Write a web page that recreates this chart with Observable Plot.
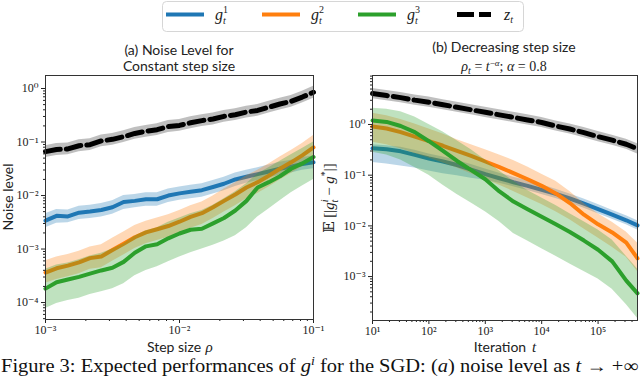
<!DOCTYPE html>
<html><head><meta charset="utf-8">
<script src="https://cdn.jsdelivr.net/npm/d3@7"></script>
<script src="https://cdn.jsdelivr.net/npm/@observablehq/plot@0.6"></script>
<style>
html,body{margin:0;padding:0;background:#fff;}
#chart{position:relative;width:640px;height:376px;overflow:hidden;background:#fff;}
#chart > svg{position:absolute;top:0;}
</style></head><body><div id="chart"></div>
<script>
// ---------- Panel (a): constant step size (values are log10 exponents)
const stepSize = [1.00e-3,1.21e-3,1.47e-3,1.78e-3,2.15e-3,2.61e-3,3.16e-3,3.83e-3,4.64e-3,5.62e-3,6.81e-3,8.25e-3,1.00e-2,1.21e-2,1.47e-2,1.78e-2,2.15e-2,2.61e-2,3.16e-2,3.83e-2,4.64e-2,5.62e-2,6.81e-2,8.25e-2,1.00e-1];
const aZ     = [-1.18,-1.14,-1.13,-1.07,-1.05,-0.98,-0.95,-0.90,-0.84,-0.80,-0.77,-0.71,-0.69,-0.64,-0.60,-0.57,-0.52,-0.49,-0.44,-0.41,-0.35,-0.29,-0.24,-0.16,-0.07];
const aZLo   = [-1.29,-1.25,-1.24,-1.18,-1.16,-1.09,-1.06,-1.01,-0.95,-0.91,-0.88,-0.82,-0.80,-0.75,-0.71,-0.68,-0.63,-0.60,-0.55,-0.52,-0.46,-0.40,-0.35,-0.27,-0.18];
const aZHi   = [-1.07,-1.03,-1.02,-0.96,-0.94,-0.87,-0.84,-0.79,-0.73,-0.69,-0.66,-0.60,-0.58,-0.53,-0.49,-0.46,-0.41,-0.38,-0.33,-0.30,-0.24,-0.18,-0.13,-0.05,0.04];
const aG1    = [-2.47,-2.38,-2.39,-2.32,-2.30,-2.27,-2.22,-2.12,-2.10,-2.07,-2.07,-2.00,-1.96,-1.93,-1.90,-1.84,-1.78,-1.70,-1.65,-1.60,-1.55,-1.50,-1.46,-1.41,-1.38];
const aG1Lo  = [-2.60,-2.52,-2.51,-2.45,-2.43,-2.40,-2.35,-2.26,-2.23,-2.20,-2.20,-2.13,-2.09,-2.06,-2.03,-1.97,-1.91,-1.83,-1.77,-1.72,-1.67,-1.62,-1.58,-1.53,-1.50];
const aG1Hi  = [-2.34,-2.26,-2.27,-2.20,-2.18,-2.15,-2.10,-2.00,-1.98,-1.95,-1.95,-1.88,-1.84,-1.81,-1.78,-1.72,-1.66,-1.58,-1.53,-1.48,-1.43,-1.38,-1.34,-1.29,-1.26];
const aG2    = [-3.44,-3.36,-3.31,-3.25,-3.17,-3.14,-3.02,-2.90,-2.78,-2.69,-2.63,-2.57,-2.49,-2.40,-2.33,-2.22,-2.10,-1.98,-1.85,-1.75,-1.63,-1.50,-1.38,-1.25,-1.10];
const aG2Lo  = [-3.64,-3.57,-3.52,-3.46,-3.38,-3.35,-3.23,-3.11,-2.99,-2.90,-2.84,-2.78,-2.70,-2.61,-2.54,-2.43,-2.31,-2.19,-2.06,-1.96,-1.84,-1.71,-1.59,-1.46,-1.31];
const aG2Hi  = [-3.22,-3.15,-3.10,-3.04,-2.96,-2.92,-2.80,-2.68,-2.56,-2.48,-2.42,-2.36,-2.28,-2.19,-2.12,-2.01,-1.88,-1.76,-1.63,-1.53,-1.41,-1.28,-1.16,-1.03,-0.88];
const aG3    = [-3.74,-3.62,-3.57,-3.52,-3.46,-3.40,-3.35,-3.24,-3.07,-2.95,-2.91,-2.80,-2.71,-2.64,-2.62,-2.52,-2.42,-2.28,-2.10,-1.85,-1.75,-1.64,-1.50,-1.40,-1.28];
const aG3Lo  = [-4.11,-4.02,-3.96,-3.92,-3.85,-3.80,-3.74,-3.65,-3.50,-3.40,-3.33,-3.24,-3.15,-3.07,-3.00,-2.93,-2.85,-2.75,-2.60,-2.40,-2.25,-2.10,-1.95,-1.82,-1.70];
const aG3Hi  = [-3.38,-3.30,-3.26,-3.20,-3.13,-3.08,-3.00,-2.90,-2.76,-2.66,-2.60,-2.50,-2.42,-2.34,-2.28,-2.18,-2.06,-1.93,-1.78,-1.60,-1.48,-1.36,-1.24,-1.12,-1.00];

// ---------- Panel (b): decreasing step size
const iteration = [10,17.8,31.6,56.2,100,178,316,562,1000,1780,3160,5620,10000,17800,31600,56200,100000,178000,316000,500000];
const bZ    = [0.61,0.57,0.53,0.48,0.44,0.39,0.34,0.29,0.24,0.19,0.14,0.09,0.04,-0.03,-0.09,-0.16,-0.24,-0.31,-0.39,-0.48];
const bZLo  = [0.51,0.47,0.43,0.38,0.34,0.29,0.24,0.19,0.14,0.09,0.04,-0.01,-0.06,-0.13,-0.19,-0.26,-0.34,-0.41,-0.49,-0.58];
const bZHi  = [0.71,0.67,0.63,0.58,0.54,0.49,0.44,0.39,0.34,0.29,0.24,0.19,0.14,0.07,0.01,-0.06,-0.14,-0.21,-0.29,-0.38];
const bG1   = [-0.47,-0.49,-0.53,-0.60,-0.67,-0.73,-0.80,-0.89,-0.98,-1.06,-1.14,-1.21,-1.29,-1.37,-1.46,-1.56,-1.67,-1.78,-1.89,-1.99];
const bG1Lo = [-0.75,-0.78,-0.82,-0.86,-0.92,-0.97,-1.01,-1.06,-1.10,-1.16,-1.23,-1.30,-1.38,-1.46,-1.55,-1.65,-1.76,-1.87,-1.98,-2.08];
const bG1Hi = [-0.40,-0.42,-0.45,-0.51,-0.58,-0.64,-0.71,-0.79,-0.88,-0.96,-1.04,-1.11,-1.19,-1.28,-1.37,-1.47,-1.58,-1.69,-1.80,-1.90];
const bG2   = [-0.04,-0.08,-0.15,-0.24,-0.33,-0.42,-0.52,-0.62,-0.73,-0.84,-0.96,-1.08,-1.21,-1.36,-1.55,-1.78,-1.97,-2.13,-2.33,-2.64];
const bG2Lo = [-0.35,-0.40,-0.48,-0.57,-0.66,-0.76,-0.86,-0.97,-1.08,-1.20,-1.32,-1.45,-1.58,-1.72,-1.88,-2.06,-2.24,-2.42,-2.62,-2.90];
const bG2Hi = [0.22,0.17,0.10,0.01,-0.09,-0.19,-0.30,-0.40,-0.50,-0.60,-0.71,-0.84,-0.98,-1.12,-1.32,-1.56,-1.76,-1.93,-2.12,-2.34];
const bG3   = [0.08,0.05,-0.03,-0.15,-0.33,-0.52,-0.72,-0.90,-1.08,-1.32,-1.52,-1.67,-1.82,-1.97,-2.12,-2.29,-2.47,-2.70,-3.08,-3.33];
const bG3Lo = [-0.55,-0.60,-0.70,-0.85,-1.00,-1.20,-1.38,-1.55,-1.72,-1.92,-2.15,-2.30,-2.45,-2.60,-2.75,-2.90,-3.05,-3.25,-3.55,-3.82];
const bG3Hi = [0.32,0.30,0.25,0.15,0.00,-0.15,-0.32,-0.50,-0.70,-0.92,-1.12,-1.30,-1.45,-1.60,-1.76,-1.92,-2.08,-2.28,-2.60,-2.85];

// ---------- ticks, names, colours
const aXTicks = [1e-3, 1e-2, 1e-1];
const aYTicks = [1e0, 1e-1, 1e-2, 1e-3, 1e-4];
const bXTicks = [1e1, 1e2, 1e3, 1e4, 1e5];
const bYTicks = [1e0, 1e-1, 1e-2, 1e-3];
const seriesNames = ["g1", "g2", "g3", "z"];
const seriesColors = ["#1f77b4", "#ff7f0e", "#2ca02c", "#000000"];

const sup = {"0":"⁰","1":"¹","2":"²","3":"³","4":"⁴","5":"⁵","6":"⁶","7":"⁷","8":"⁸","9":"⁹","-":"⁻"};
const powFmt = v => "10" + String(Math.round(Math.log10(v))).split("").map(c => sup[c]).join("");
function minor(lo, hi) {
  const out = [];
  for (let e = Math.floor(Math.log10(lo)); e <= Math.ceil(Math.log10(hi)); e++)
    for (let k = 2; k <= 9; k++) { const v = k * 10 ** e; if (v > lo * 1.0001 && v < hi * 0.9999) out.push(v); }
  return out;
}

function rows(xs, mid, lo, hi) {
  return xs.map((x, i) => ({x, y: 10 ** mid[i], lo: 10 ** lo[i], hi: 10 ** hi[i]}));
}

function panel(xs, sets, opts) {
  const marks = [];
  sets.forEach(([mid, lo, hi], k) => {
    const d = rows(xs, mid, lo, hi);
    const isZ = seriesNames[k] === "z";
    marks.push(Plot.areaY(d, {x: "x", y1: "lo", y2: "hi", fill: isZ ? "#808080" : seriesColors[k], fillOpacity: isZ ? 0.5 : 0.3, curve: "linear"}));
    marks.push(Plot.lineY(d, {x: "x", y: "y", stroke: seriesColors[k], strokeWidth: isZ ? 5 : 4,
      strokeDasharray: isZ ? "15,6" : null, curve: "linear", strokeLinejoin: "round"}));
  });
  marks.push(
    Plot.axisX({ticks: opts.xTicks, tickFormat: powFmt, tickSize: 4, tickPadding: 2, label: null, fontSize: 12}),
    Plot.axisX({ticks: minor(opts.xDomain[0], opts.xDomain[1]), tickFormat: () => "", tickSize: 2, label: null}),
    Plot.axisY({ticks: opts.yTicks, tickFormat: powFmt, tickSize: 4, tickPadding: 3, label: null, fontSize: 12}),
    Plot.axisY({ticks: minor(opts.yDomain[0], opts.yDomain[1]), tickFormat: () => "", tickSize: 2, label: null}),
    Plot.frame({stroke: "#333", strokeWidth: 1})
  );
  const svg = Plot.plot({
    width: opts.width, height: 376,
    marginLeft: opts.ml, marginRight: opts.mr, marginTop: 75, marginBottom: opts.mb,
    x: {type: "log", domain: opts.xDomain},
    y: {type: "log", domain: opts.yDomain},
    style: {fontFamily: "'Liberation Serif', 'DejaVu Serif', serif", fontSize: "12px", color: "#222", background: "transparent", overflow: "visible"},
    marks
  });
  svg.style.left = opts.left + "px";
  return svg;
}

const chart = document.getElementById("chart");
chart.appendChild(panel(stepSize,
  [[aG1, aG1Lo, aG1Hi], [aG2, aG2Lo, aG2Hi], [aG3, aG3Lo, aG3Hi], [aZ, aZLo, aZHi]],
  {width: 330, left: 0, ml: 45, mr: 17, mb: 57, xDomain: [1e-3, 1e-1], yDomain: [4.82e-5, 1.75], xTicks: aXTicks, yTicks: aYTicks}));
chart.appendChild(panel(iteration,
  [[bG1, bG1Lo, bG1Hi], [bG2, bG2Lo, bG2Hi], [bG3, bG3Lo, bG3Hi], [bZ, bZLo, bZHi]],
  {width: 320, left: 320, ml: 52, mr: 3, mb: 56, xDomain: [10, 5e5], yDomain: [1.36e-4, 9.25], xTicks: bXTicks, yTicks: bYTicks}));

// ---------- overlay: legend, titles, axis labels, caption
const NS = "http://www.w3.org/2000/svg";
const ov = document.createElementNS(NS, "svg");
ov.setAttribute("width", 640); ov.setAttribute("height", 376);
ov.style.left = "0px"; ov.style.pointerEvents = "none";
const SERIF = "'Liberation Serif', 'DejaVu Serif', serif";
const SANS = "Lato, 'Open Sans', sans-serif";
ov.innerHTML = `
<rect x="162.5" y="1.5" width="361" height="30" rx="4" fill="#fff" fill-opacity="0.8" stroke="#d6d6d6"/>
<line x1="166" x2="204" y1="14.5" y2="14.5" stroke="${seriesColors[0]}" stroke-width="4"/>
<line x1="262" x2="300" y1="14.5" y2="14.5" stroke="${seriesColors[1]}" stroke-width="4"/>
<line x1="358" x2="396" y1="14.5" y2="14.5" stroke="${seriesColors[2]}" stroke-width="4"/>
<line x1="457" x2="491" y1="14.5" y2="14.5" stroke="#000" stroke-width="5" stroke-dasharray="17,5"/>
<g font-family="${SERIF}" font-size="16" fill="#222">
  <text x="215" y="20" font-style="italic">g<tspan font-style="normal" font-size="10" dy="-7">1</tspan><tspan font-size="10" dx="-5" dy="11">t</tspan></text>
  <text x="311" y="20" font-style="italic">g<tspan font-style="normal" font-size="10" dy="-7">2</tspan><tspan font-size="10" dx="-5" dy="11">t</tspan></text>
  <text x="407" y="20" font-style="italic">g<tspan font-style="normal" font-size="10" dy="-7">3</tspan><tspan font-size="10" dx="-5" dy="11">t</tspan></text>
  <text x="504" y="20" font-style="italic">z<tspan font-size="10" dy="3">t</tspan></text>
</g>
<g font-family="${SANS}" font-size="14" fill="#222" text-anchor="middle">
  <text x="179" y="55">(a) Noise Level for</text>
  <text x="179" y="71">Constant step size</text>
  <text x="504" y="52">(b) Decreasing step size</text>
  <text x="174" y="352">Step size</text>
  <text x="500" y="352">Iteration</text>
  <text transform="translate(13,197) rotate(-90)">Noise level</text>
</g>
<text x="209" y="352" text-anchor="middle" font-family="${SERIF}" font-style="italic" font-size="15" fill="#222">ρ</text>
<text x="534" y="352" text-anchor="middle" font-family="${SERIF}" font-style="italic" font-size="15" fill="#222">t</text>
<text x="504" y="71" text-anchor="middle" font-family="${SERIF}" font-size="14" fill="#222"><tspan font-style="italic">ρ</tspan><tspan font-style="italic" font-size="10" dy="3">t</tspan><tspan dy="-3"> = </tspan><tspan font-style="italic">t</tspan><tspan font-size="9" dy="-5">−</tspan><tspan font-size="9" font-style="italic">α</tspan><tspan dy="5">; </tspan><tspan font-style="italic">α</tspan> = 0.8</text>
<text transform="translate(334,198) rotate(-90)" text-anchor="middle" font-family="${SERIF}" font-size="15" fill="#222">𝔼 [|<tspan font-style="italic">g</tspan><tspan font-style="italic" font-size="10" dy="-6">i</tspan><tspan font-style="italic" font-size="10" dx="-3" dy="10">t</tspan><tspan dy="-4"> − </tspan><tspan font-style="italic">g</tspan><tspan font-size="10" dy="-6">*</tspan><tspan dy="6">|]</tspan></text>
<text x="1" y="372" font-family="${SERIF}" font-size="18" fill="#111" textLength="637" lengthAdjust="spacingAndGlyphs">Figure 3: Expected performances of <tspan font-style="italic">g</tspan><tspan font-style="italic" font-size="12" dy="-7">i</tspan><tspan dy="7"> for the SGD: (</tspan><tspan font-style="italic">a</tspan>) noise level as <tspan font-style="italic">t</tspan> → +∞</text>
`;
chart.appendChild(ov);
</script>
</body></html>
